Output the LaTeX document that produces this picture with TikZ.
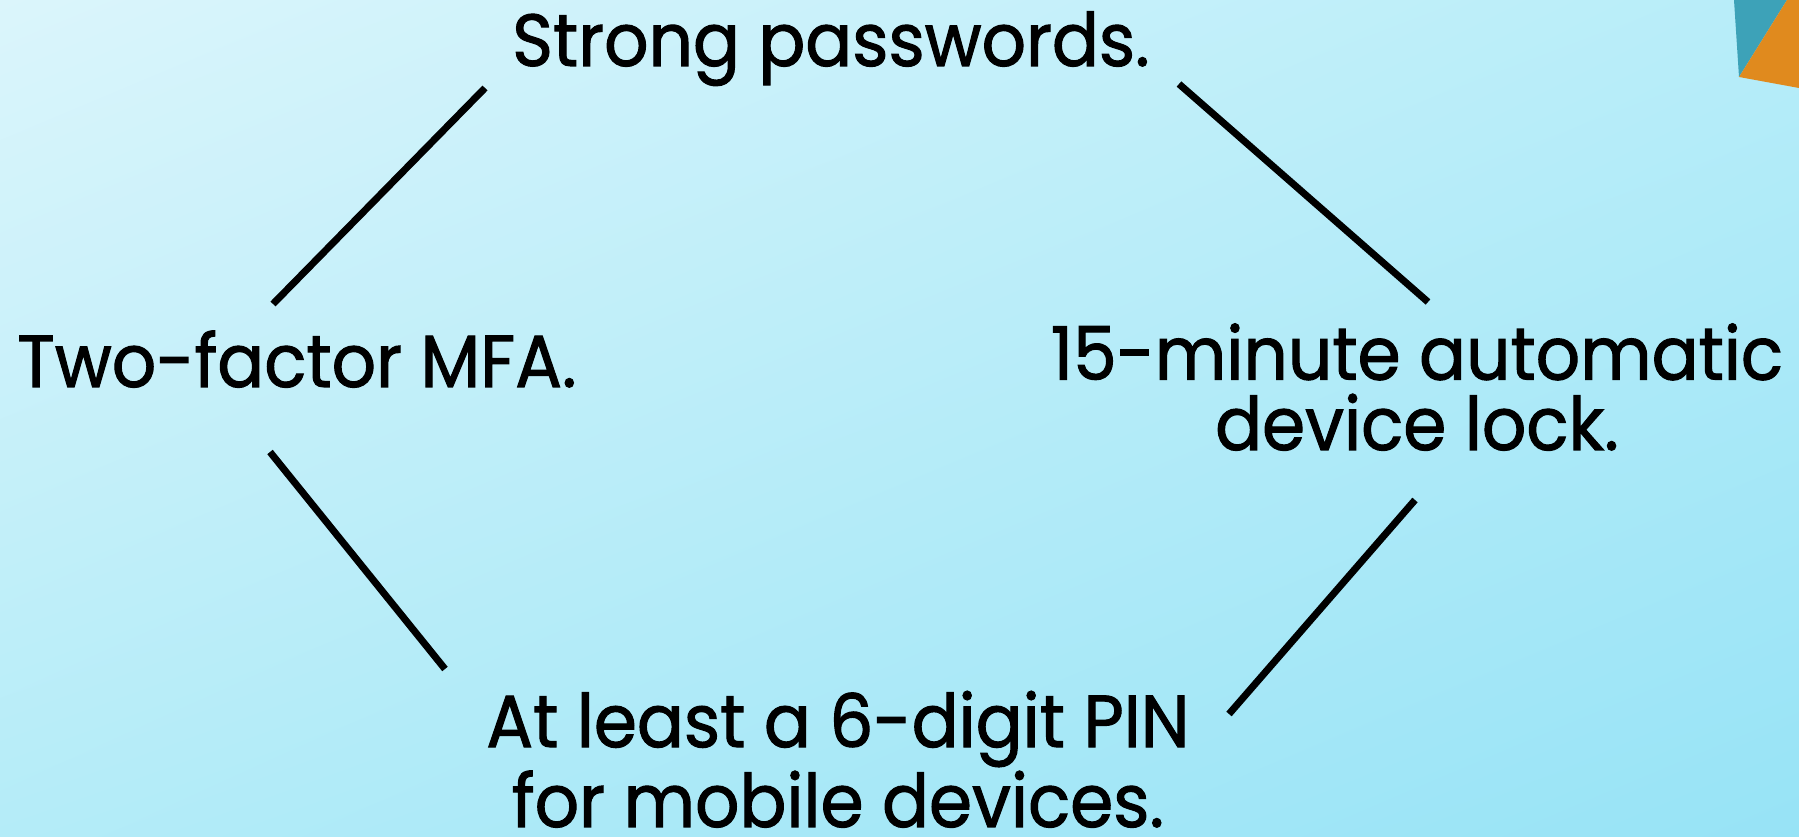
\documentclass[tikz,border=0pt]{standalone}
\usepackage{fontspec}
\setmainfont{Poppins}[FakeStretch = 0.94, FakeBold = 1.4]
\usetikzlibrary{shadings}
\definecolor{bgtl}{HTML}{DBF5FB}
\definecolor{bgtr}{HTML}{B7EDF9}
\definecolor{bgbl}{HTML}{B4ECF8}
\definecolor{bgbr}{HTML}{97E3F6}
\definecolor{cornerteal}{HTML}{3DA2B8}
\definecolor{cornerorange}{HTML}{E08A1E}

\begin{document}
\begin{tikzpicture}[x = 0.01cm, y = -0.01cm, % one unit = one pixel
                line cap = butt
            ]

            \tikzstyle{every node}=[inner sep = 0pt, align = center,
            font = \fontsize{21}{20}\selectfont]
            \tikzstyle{spoke}=[draw = black, line width = 2pt]

            \useasboundingbox (0,0) rectangle (1799,837);
            \shade[upper left = bgtl, upper right = bgtr, lower left = bgbl,
            lower right = bgbr] (0,0) rectangle (1799,837);

            % corner decoration
            \fill[cornerteal] (1734,0) -- (1787,0) -- (1739,77) -- cycle;
            \fill[cornerorange] (1787,0) -- (1799,0) -- (1799,88) -- (1739,77)
            -- cycle;

            % base = last line
            \node (pw) [anchor = base] at (831,66) {Strong passwords.};
            \node (mfa) [anchor = base] at (297,387) {Two-factor MFA.};
            \node (lock) [anchor = base] at (1417,450) {15-minute automatic\\device
                lock.};
            \node (pin) [anchor = base] at (838,827) {At least a 6-digit PIN\\for
                mobile devices.};

            \coordinate (pw-w) at (485,88); \coordinate (mfa-n) at (273,304);
            \coordinate (pw-e) at (1179,84); \coordinate (lock-n) at (1428,302);
            \coordinate (mfa-s) at (270,452); \coordinate (pin-w) at (445,669);
            \coordinate (lock-s) at (1415,500); \coordinate (pin-e) at
            (1229,714);

            \path[spoke] (pw-w) -- (mfa-n); \path[spoke] (pw-e) -- (lock-n);
            \path[spoke] (mfa-s) -- (pin-w); \path[spoke] (lock-s) -- (pin-e);
        \end{tikzpicture}
\end{document}
